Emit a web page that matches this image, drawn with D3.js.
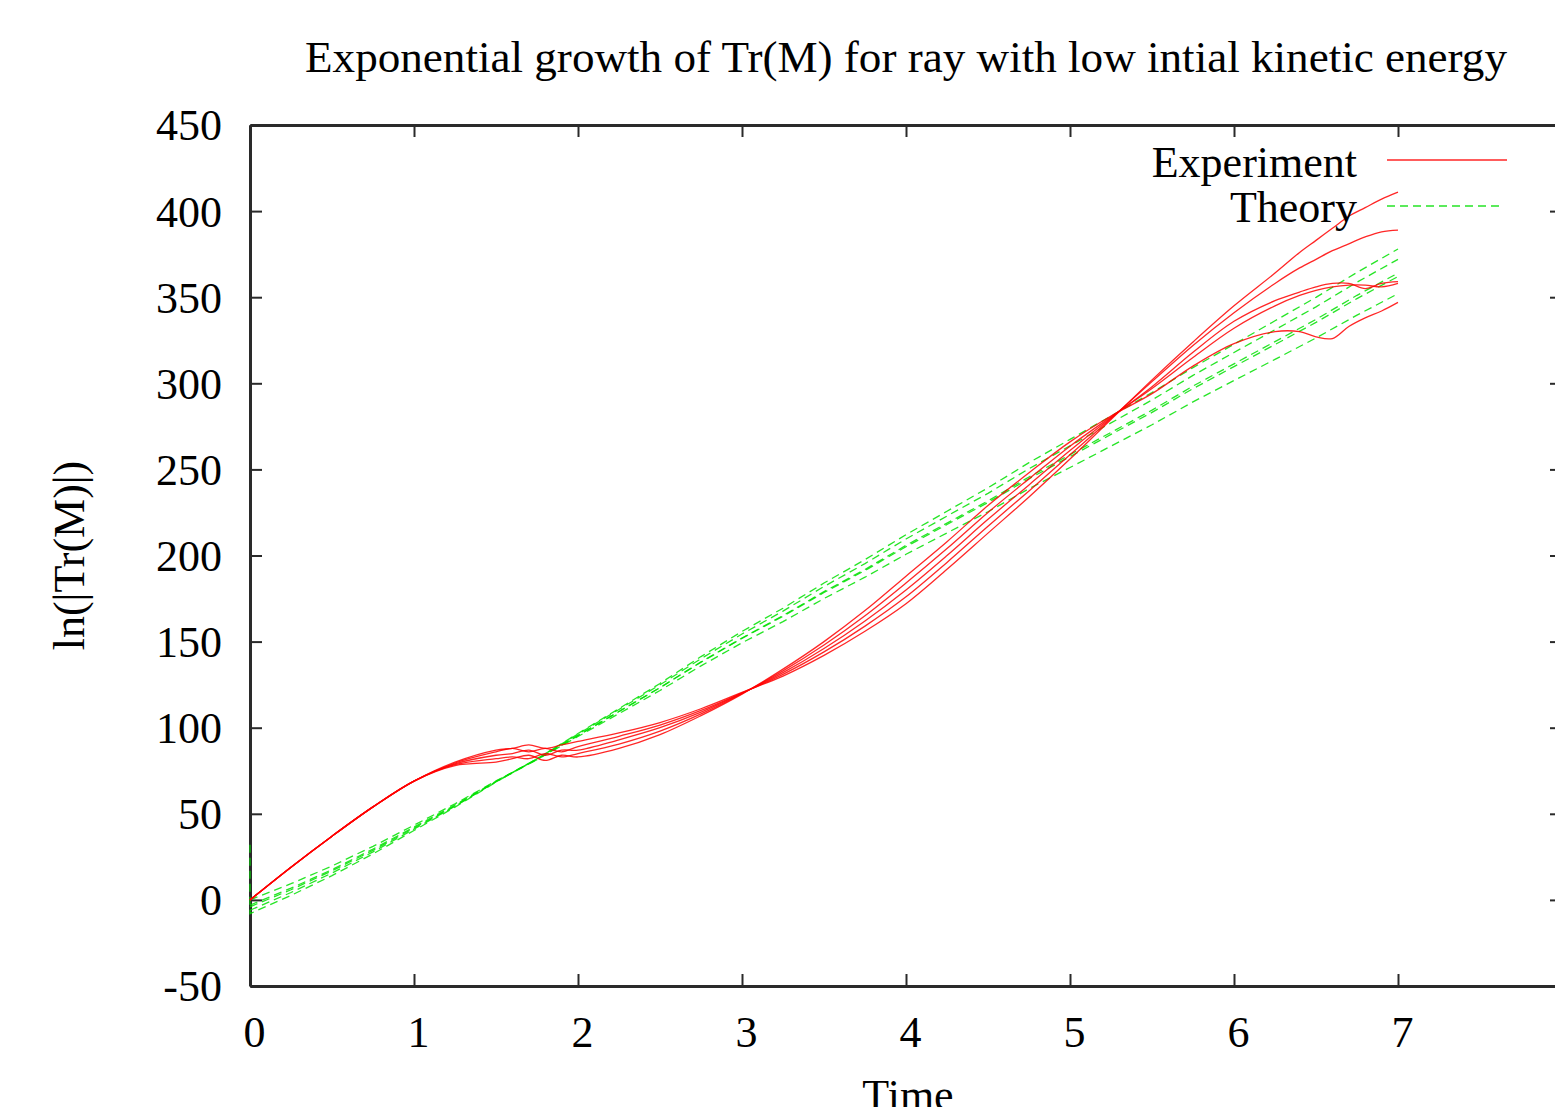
<!DOCTYPE html>
<html>
<head>
<meta charset="utf-8">
<script src="https://cdn.jsdelivr.net/npm/d3@7/dist/d3.min.js"></script>
<style>
  html, body { margin: 0; padding: 0; background: #fff; }
  svg { display: block; }
  text { font-family: "Liberation Serif", "DejaVu Serif", serif; fill: #000; }
</style>
</head>
<body>
<svg id="chart" width="1555" height="1107"></svg>
<script>
// ---------------- DATA ----------------
const titleText = "Exponential growth of Tr(M) for ray with low intial kinetic energy";
const xLabelText = "Time";
const yLabelText = "ln(|Tr(M)|)";
const legendLabels = ["Experiment", "Theory"];

const xTicks = [0, 1, 2, 3, 4, 5, 6, 7, 8];
const xTickLabels = ["0", "1", "2", "3", "4", "5", "6", "7", ""];
const yTicks = [-50, 0, 50, 100, 150, 200, 250, 300, 350, 400, 450];
const yTickLabels = ["-50", "0", "50", "100", "150", "200", "250", "300", "350", "400", "450"];

// Experiment: time samples
const tExp = [0, 0.25, 0.5, 0.75, 1, 1.25, 1.5, 1.6, 1.7, 1.8, 1.9, 2, 2.25, 2.5, 2.75, 3,
              3.25, 3.5, 3.75, 4, 4.25, 4.5, 4.75, 5, 5.25, 5.5, 5.75, 6, 6.25, 6.4, 6.5,
              6.6, 6.7, 6.8, 6.9, 7];
const expA = [0, 19, 37, 54, 69, 80, 87, 88, 90, 88, 90, 92, 97, 103, 111, 120.5,
              130, 142, 156, 172, 192, 213, 234, 256, 279, 302, 324, 345, 364, 376, 383,
              390, 397, 402, 407, 411];
const expB = [0, 19, 37, 54, 69, 79.5, 86, 88, 86, 88, 86, 89, 95, 101.5, 110, 120.2,
              131, 144, 159, 176, 196, 217, 237.5, 258.5, 279.5, 301, 322, 341, 358, 367, 372,
              377, 381, 385, 388, 389];
const expC = [0, 19, 37, 54, 69, 79, 84, 85, 87, 84, 87, 87, 93, 100, 109, 120,
              132, 146, 162, 180, 200, 221, 241, 261, 280, 298, 318, 336, 348, 353, 356,
              358, 358, 355, 358, 359];
const expD = [0, 19, 37, 54, 69, 78.5, 82, 83, 82, 85, 83, 85, 90.5, 98, 108, 119.8,
              133, 148, 165, 184, 204, 225, 244.5, 263.5, 280.5, 297, 315, 332, 345, 351, 354,
              356, 357, 357, 356, 358];
const expE = [0, 19, 37, 54, 69, 78, 80, 82, 84, 81, 84, 83, 88, 96, 107, 119.5,
              134, 150, 168, 188, 208, 229, 248, 266, 281, 294, 310, 323, 330, 330, 327,
              326, 333, 338, 342, 347];

// Theory: time samples (first sample repeated: vertical start segment)
const tTheory = [0, 0, 0.25, 0.5, 0.75, 1, 1.25, 1.5, 1.75, 2, 2.25, 2.5, 2.75, 3, 3.25,
                 3.5, 3.75, 4, 4.25, 4.5, 4.75, 5, 5.25, 5.5, 5.75, 6, 6.25, 6.5, 6.75, 7];
const thA = [32, -8, 2.6, 14.1, 26.7, 40.3, 53.9, 68.4, 82, 96.6, 111.1, 125.7, 141.3, 155.9,
             169.4, 184, 197.6, 212.1, 225.7, 239.3, 253.9, 267.4, 281, 294.6, 309.1, 322.7,
             336.3, 349.9, 364.4, 378];
const thB = [-6, -6, 4.3, 15.6, 27.9, 41.1, 54.4, 68.7, 82, 96.3, 110.6, 124.9, 140.1, 154.4,
             167.7, 182, 195.3, 209.6, 222.9, 236.1, 250.4, 263.7, 277, 290.3, 304.6, 317.9,
             331.1, 344.4, 358.7, 372];
const thC = [-4, -4, 5.9, 16.9, 28.8, 41.7, 54.6, 68.6, 81.5, 95.4, 109.4, 123.3, 138.2, 152.1,
             165.1, 179, 191.9, 205.9, 218.8, 231.7, 245.6, 258.6, 271.5, 284.4, 298.4, 311.3,
             324.2, 337.1, 351.1, 364];
const thD = [-3, -3, 6.8, 17.6, 29.5, 42.3, 55.1, 68.9, 81.8, 95.6, 109.4, 123.2, 138, 151.9,
             164.7, 178.5, 191.3, 205.1, 218, 230.8, 244.6, 257.4, 270.3, 283.1, 296.9, 309.7,
             322.5, 335.4, 349.2, 362];
const thE = [0, 0, 9.4, 19.7, 31.1, 43.4, 55.8, 69.1, 81.5, 94.9, 108.2, 121.6, 135.9, 149.3,
             161.6, 175, 187.4, 200.7, 213.1, 225.4, 238.8, 251.1, 263.5, 275.9, 289.2, 301.6,
             313.9, 326.3, 339.6, 352];

const experimentSeries = [expA, expB, expC, expD, expE];
const theorySeries = [thA, thB, thC, thD, thE];

// ---------------- DRAW ----------------
(function () {
const svg = d3.select("#chart");
const FONT = 44;
const pL = 250, pR = 1562, pT = 125, pB = 986;

const x = d3.scaleLinear().domain([0, 8]).range([pL, pR]);
const y = d3.scaleLinear().domain([-50, 450]).range([pB, pT]);

const redColor = "#ff0000";
const greenColor = "#00e000";

function styleAxis(g) {
  g.selectAll(".domain").attr("stroke", "#2a2a2a").attr("stroke-width", 3);
  g.selectAll(".tick line").attr("stroke", "#2a2a2a").attr("stroke-width", 2);
  g.selectAll("text").attr("font-family", '"Liberation Serif", serif').attr("font-size", FONT).attr("fill", "#000");
}

const gLeft = svg.append("g").attr("transform", `translate(${pL},0)`)
  .call(d3.axisLeft(y).tickValues(yTicks).tickSize(-12).tickSizeOuter(0).tickPadding(28)
        .tickFormat((d, i) => yTickLabels[i]));
styleAxis(gLeft);
gLeft.selectAll("text").attr("dy", "0.34em");

const gBottom = svg.append("g").attr("transform", `translate(0,${pB})`)
  .call(d3.axisBottom(x).tickValues(xTicks).tickSize(-12).tickSizeOuter(0).tickPadding(30)
        .tickFormat((d, i) => xTickLabels[i]));
styleAxis(gBottom);
gBottom.selectAll("text").attr("dx", 4);

const gTop = svg.append("g").attr("transform", `translate(0,${pT})`)
  .call(d3.axisTop(x).tickValues(xTicks).tickSize(-12).tickSizeOuter(0).tickFormat(""));
styleAxis(gTop);

const gRight = svg.append("g").attr("transform", `translate(${pR},0)`)
  .call(d3.axisRight(y).tickValues(yTicks).tickSize(-12).tickSizeOuter(0).tickFormat(""));
styleAxis(gRight);

svg.append("defs").append("clipPath").attr("id", "plotclip")
  .append("rect").attr("x", pL - 2).attr("y", pT).attr("width", pR - pL + 2).attr("height", pB - pT);

const plot = svg.append("g").attr("clip-path", "url(#plotclip)");
const lineTheory = d3.line().x(d => x(d[0])).y(d => y(d[1]));
const lineExp = d3.line().x(d => x(d[0])).y(d => y(d[1])).curve(d3.curveCatmullRom.alpha(0.5));

theorySeries.forEach(s => {
  plot.append("path")
    .attr("d", lineTheory(tTheory.map((t, i) => [t, s[i]])))
    .attr("fill", "none")
    .attr("stroke", greenColor)
    .attr("stroke-width", 1.3)
    .attr("stroke-dasharray", "8,5")
    .attr("opacity", 0.85);
});

experimentSeries.forEach(s => {
  plot.append("path")
    .attr("d", lineExp(tExp.map((t, i) => [t, s[i]])))
    .attr("fill", "none")
    .attr("stroke", redColor)
    .attr("stroke-width", 1.3)
    .attr("opacity", 0.85);
});

const title = svg.append("text")
  .attr("x", (pL + pR) / 2).attr("y", 72)
  .attr("text-anchor", "middle")
  .attr("font-size", FONT)
  .text(titleText);
const tw = title.node().getComputedTextLength();
if (tw > 0) title.attr("font-size", FONT * 1202 / tw);

svg.append("text")
  .attr("x", (pL + pR) / 2 + 2).attr("y", 1110)
  .attr("text-anchor", "middle")
  .attr("font-size", FONT)
  .text(xLabelText);

svg.append("text")
  .attr("transform", `translate(84,${(pT + pB) / 2}) rotate(-90)`)
  .attr("text-anchor", "middle")
  .attr("font-size", FONT)
  .text(yLabelText);

const legendY = [162, 207];
const legend = svg.append("g");
legend.append("text").attr("x", 1357).attr("y", legendY[0]).attr("dy", "0.34em")
  .attr("text-anchor", "end").attr("font-size", FONT).text(legendLabels[0]);
legend.append("line").attr("x1", 1387).attr("x2", 1507).attr("y1", legendY[0] - 2).attr("y2", legendY[0] - 2)
  .attr("stroke", redColor).attr("stroke-width", 1.3).attr("opacity", 0.85);
legend.append("text").attr("x", 1357).attr("y", legendY[1]).attr("dy", "0.34em")
  .attr("text-anchor", "end").attr("font-size", FONT).text(legendLabels[1]);
legend.append("line").attr("x1", 1387).attr("x2", 1503).attr("y1", legendY[1] - 1).attr("y2", legendY[1] - 1)
  .attr("stroke", greenColor).attr("stroke-width", 1.3).attr("stroke-dasharray", "8,5").attr("opacity", 0.85);
})();
</script>
</body>
</html>
